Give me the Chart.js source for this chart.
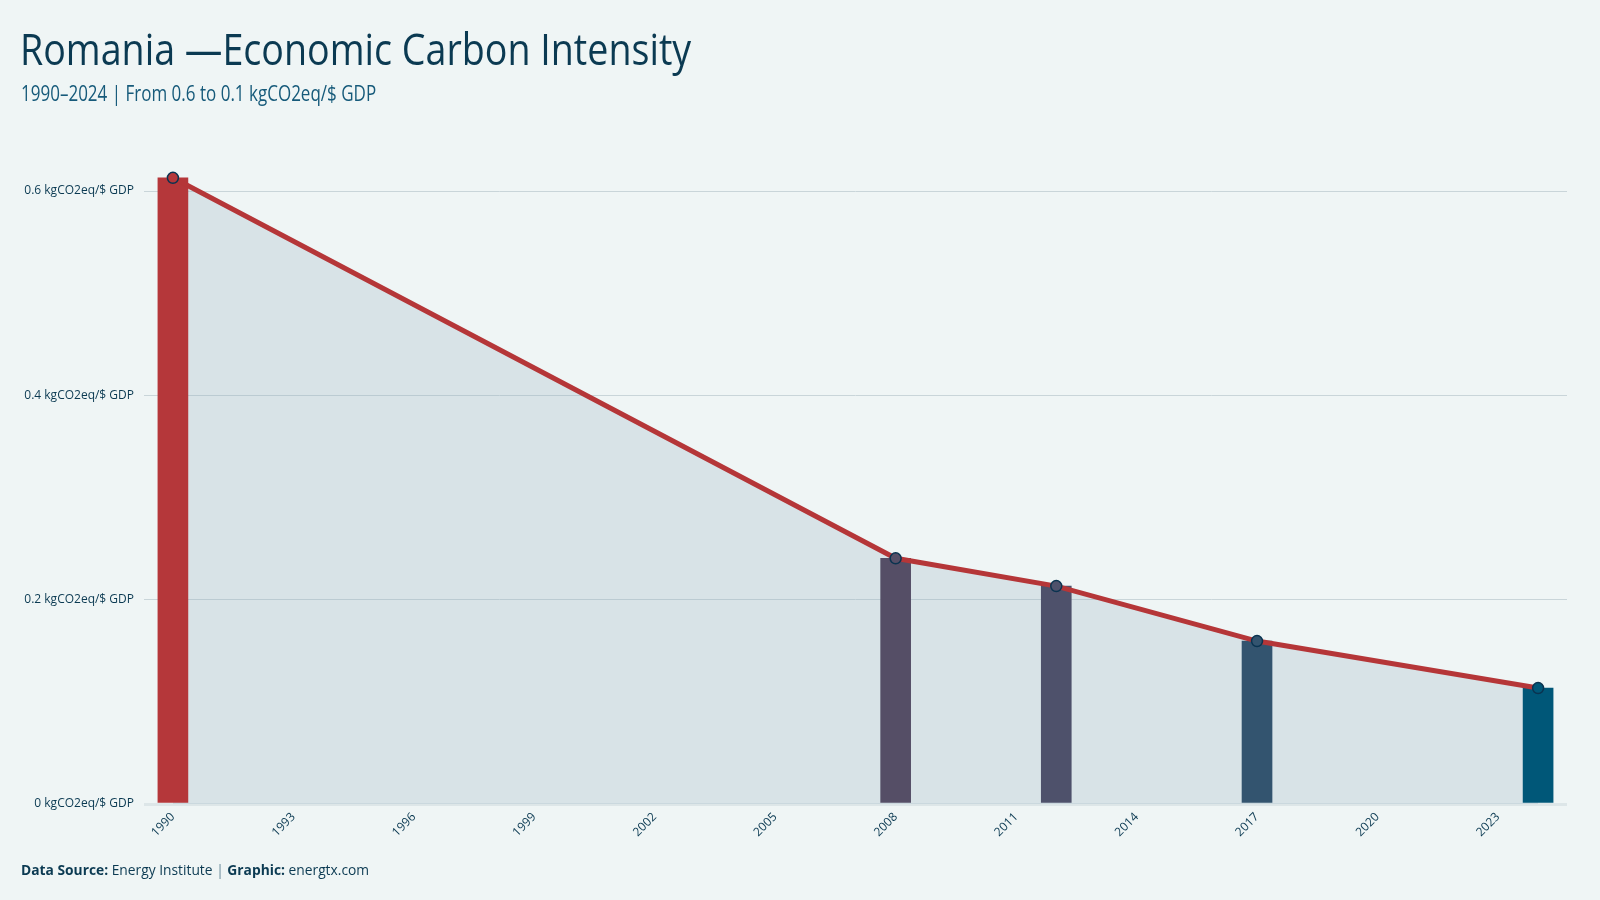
<!DOCTYPE html>
<html>
<head>
<meta charset="utf-8">
<script src="https://cdn.jsdelivr.net/npm/chart.js@4/dist/chart.umd.min.js"></script>
<style>
  body { margin: 0; background: #eff5f5; }
  #wrap { position: relative; width: 1600px; height: 900px; overflow: hidden; }
  #title { position: absolute; left: 20px; top: 18px; font: 44px "Open Sans", sans-serif; color: #0b3a52; transform: scaleX(0.855); transform-origin: left top; white-space: nowrap; }
  #subtitle { position: absolute; left: 21px; top: 79px; font: 21px "Open Sans", sans-serif; color: #165a7a; transform: scaleX(0.81); transform-origin: left top; white-space: nowrap; }
  #footer { position: absolute; left: 21px; top: 860px; font: 13.8px "Open Sans", sans-serif; color: #0b3a52; }
  #footer b { font-weight: 700; }
  #footer .sep { color: #6b8a9a; }
  canvas { position: absolute; left: 0; top: 0; }
</style>
</head>
<body>
<div id="wrap">
  <canvas id="chart" width="1600" height="900"></canvas>
  <div id="title">Romania —Economic Carbon Intensity</div>
  <div id="subtitle">1990–2024 | From 0.6 to 0.1 kgCO2eq/$ GDP</div>
  <div id="footer"><b>Data Source:</b> Energy Institute <span class="sep">|</span> <b>Graphic:</b> energtx.com</div>
</div>
<script>
// Datos
const years = [1990, 2008, 2012, 2017, 2024];
const intensity = [0.613, 0.2405, 0.2133, 0.1595, 0.1135];
const barColors = ["#b5373a", "#554e66", "#4e516b", "#33546f", "#005778"];
const xTicks = [1990, 1993, 1996, 1999, 2002, 2005, 2008, 2011, 2014, 2017, 2020, 2023];
const yTicks = [0, 0.2, 0.4, 0.6];
const unit = " kgCO2eq/$ GDP";

const points = years.map((y, i) => ({ x: y, y: intensity[i] }));
const tickFont = { family: "Open Sans, DejaVu Sans, sans-serif", size: 12 };

const ctx = document.getElementById("chart").getContext("2d");
new Chart(ctx, {
  data: {
    datasets: [
      {
        type: "line",
        data: points,
        order: 0,
        borderColor: "#b53638",
        borderWidth: 5,
        tension: 0,
        fill: "origin",
        backgroundColor: "rgba(147,177,193,0.25)",
        pointRadius: 5.5,
        pointBorderWidth: 1.5,
        pointBackgroundColor: barColors,
        pointBorderColor: "#0a3350",
      },
      {
        type: "bar",
        data: points,
        order: 1,
        backgroundColor: barColors,
        barThickness: 30,
      },
    ],
  },
  options: {
    responsive: false,
    animation: false,
    layout: { padding: { top: 140, right: 33, left: 0, bottom: 0 } },
    plugins: {
      legend: { display: false },
      tooltip: { enabled: false },
      filler: { drawTime: "beforeDatasetsDraw" },
    },
    scales: {
      x: {
        type: "linear",
        offset: false,
        min: 1989.28,
        max: 2024.72,
        grid: { display: false, drawTicks: false },
        border: { display: false },
        afterBuildTicks: (s) => { s.ticks = xTicks.map((v) => ({ value: v })); },
        afterFit: (s) => { s.height = 96; },
        ticks: {
          font: tickFont,
          color: "#0b3a52",
          minRotation: 45,
          maxRotation: 45,
          padding: 6,
          callback: (v) => String(v),
        },
      },
      y: {
        min: 0,
        max: 0.65,
        grid: {
          drawTicks: false,
          color: (c) => (c.tick && c.tick.value === 0 ? "#dde6e8" : "#c9d5d9"),
          lineWidth: (c) => (c.tick && c.tick.value === 0 ? 3 : 1),
        },
        border: { display: false },
        afterBuildTicks: (s) => { s.ticks = yTicks.map((v) => ({ value: v })); },
        afterFit: (s) => { s.width = 144; },
        ticks: {
          font: tickFont,
          color: "#0b3a52",
          padding: 10,
          callback: (v) => v + unit,
        },
      },
    },
  },
});
</script>
</body>
</html>
